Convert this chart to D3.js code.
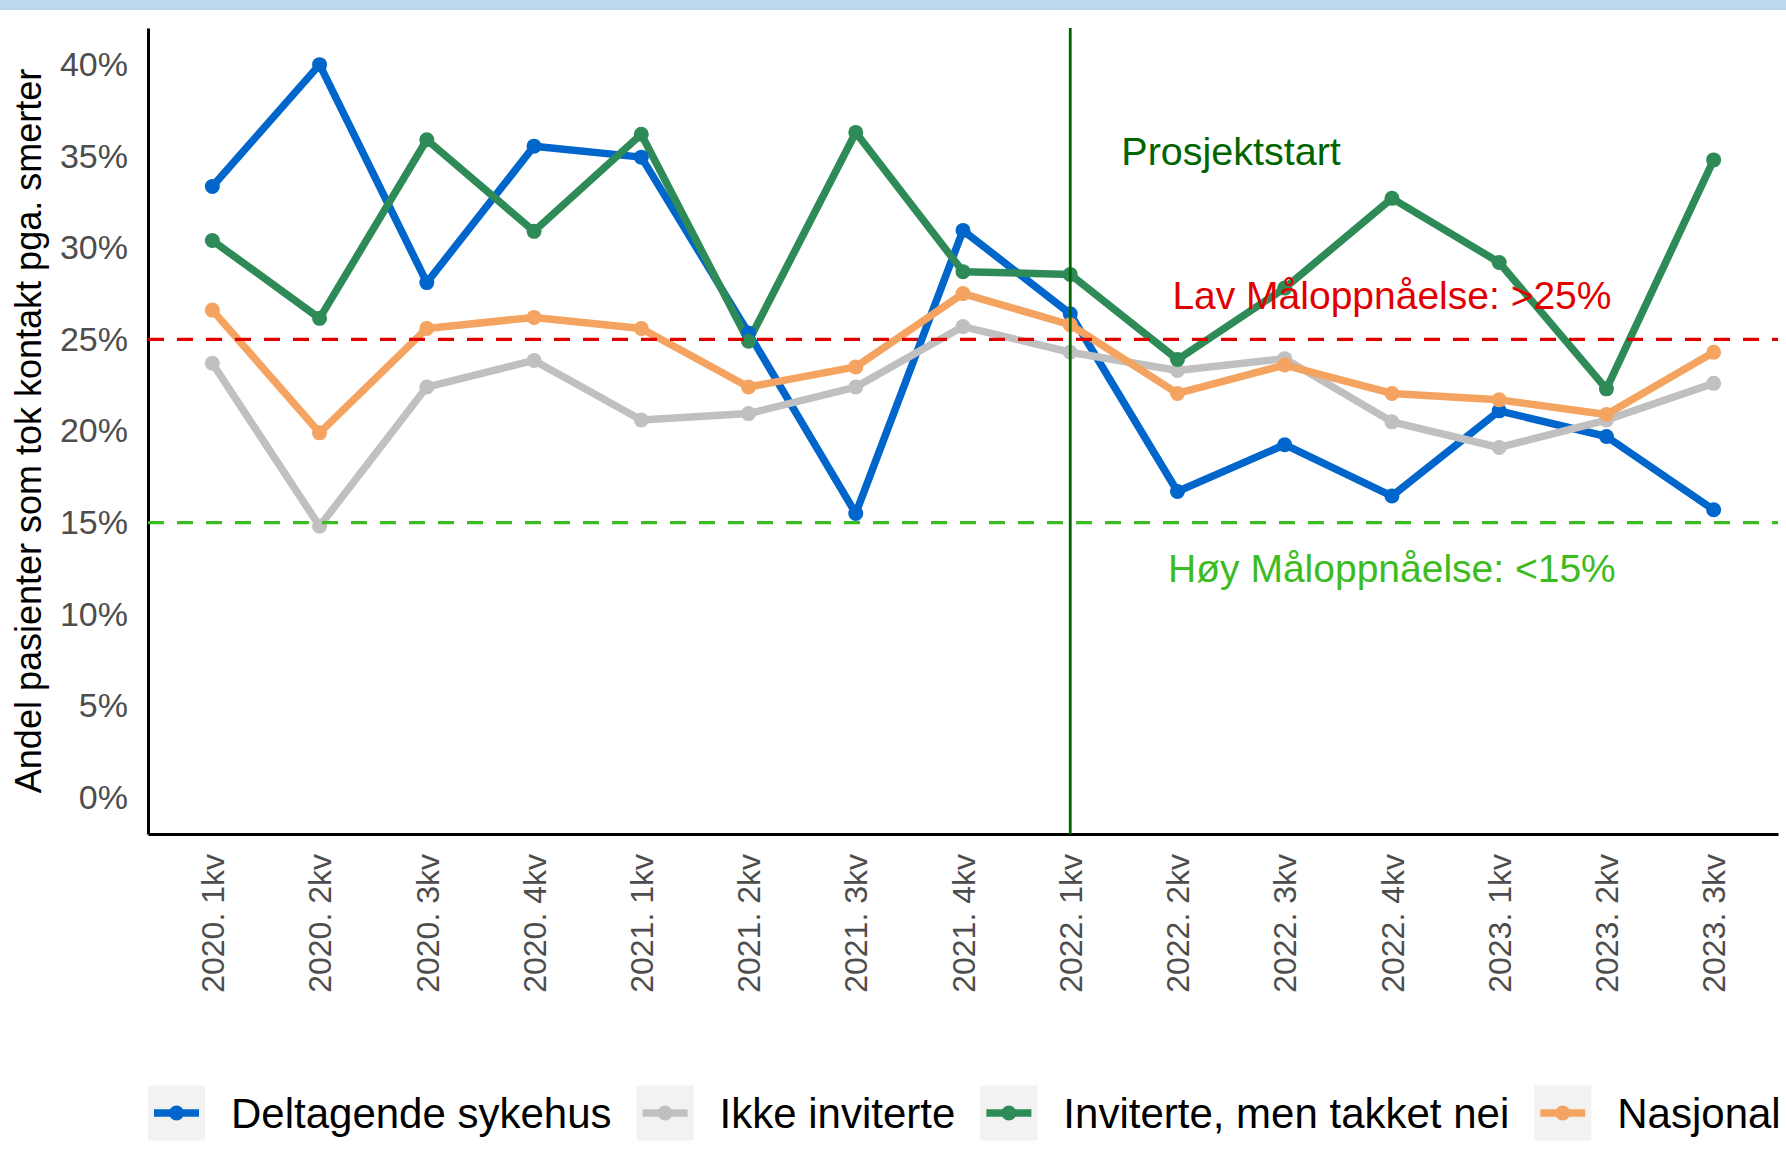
<!DOCTYPE html>
<html>
<head>
<meta charset="utf-8">
<script src="https://cdn.jsdelivr.net/npm/d3@7"></script>
<style>
  body { margin: 0; background: #fff; }
  svg { display: block; font-family: "Liberation Sans", Arial, Helvetica, sans-serif; }
</style>
</head>
<body>
<div id="chart"></div>
<script>
// Quarters on the x axis
var quarters = ['2020. 1kv', '2020. 2kv', '2020. 3kv', '2020. 4kv',
  '2021. 1kv', '2021. 2kv', '2021. 3kv', '2021. 4kv',
  '2022. 1kv', '2022. 2kv', '2022. 3kv', '2022. 4kv',
  '2023. 1kv', '2023. 2kv', '2023. 3kv'];

// Percent of patients, one array per group
var deltagende = [33.35, 40.0, 28.1, 35.55, 34.95, 25.35, 15.5, 30.95, 26.4, 16.7, 19.25, 16.45, 21.1, 19.7, 15.7];
var ikkeInviterte = [23.7, 14.8, 22.4, 23.85, 20.6, 20.95, 22.4, 25.7, 24.3, 23.3, 23.95, 20.5, 19.1, 20.6, 22.6];
var invitertNei = [30.4, 26.15, 35.9, 30.9, 36.2, 24.9, 36.3, 28.7, 28.55, 23.9, 27.8, 32.7, 29.2, 22.3, 34.8];
var nasjonal = [26.6, 19.9, 25.6, 26.2, 25.6, 22.4, 23.5, 27.5, 25.8, 22.05, 23.6, 22.05, 21.7, 20.9, 24.3];

var seriesNames = ['Deltagende sykehus', 'Ikke inviterte', 'Inviterte, men takket nei', 'Nasjonal'];
var seriesValues = [deltagende, ikkeInviterte, invitertNei, nasjonal];
var seriesColors = ['#0066cc', '#c0c0c0', '#2e8b57', '#f4a460'];

var yTicks = [0, 5, 10, 15, 20, 25, 30, 35, 40];

// Goal thresholds and project start
var lowGoal = 25;
var highGoal = 15;
var projectStart = '2022. 1kv';

var width = 1786;
var height = 1151;
var margin = {top: 28, right: 8, bottom: 317, left: 148};
var plotW = width - margin.left - margin.right;
var plotH = height - margin.top - margin.bottom;

var svg = d3.select('#chart').append('svg')
  .attr('width', width)
  .attr('height', height);

// light blue strip at the very top
svg.append('rect')
  .attr('x', 0).attr('y', 0)
  .attr('width', width).attr('height', 10)
  .attr('fill', '#bdd7ee');

var g = svg.append('g')
  .attr('transform', 'translate(' + margin.left + ',' + margin.top + ')');

var x = d3.scalePoint()
  .domain(quarters)
  .range([0, plotW])
  .padding(0.6);

// fractional positions between quarters (for the text labels)
function xAt(i) {
  return x(quarters[0]) + i * x.step();
}

var y = d3.scaleLinear()
  .domain([-2, 42])
  .range([plotH, 0]);

// axes
var yAxis = g.append('g')
  .call(d3.axisLeft(y).tickValues(yTicks).tickSize(0).tickPadding(20)
    .tickFormat(function(d) { return d + '%'; }));
yAxis.select('.domain').attr('stroke', '#000').attr('stroke-width', 3);
yAxis.selectAll('text')
  .attr('fill', '#4d4d4d')
  .style('font-size', '34px')
  .style('font-family', 'inherit');

var xAxis = g.append('g')
  .attr('transform', 'translate(0,' + plotH + ')')
  .call(d3.axisBottom(x).tickSize(0));
xAxis.select('.domain').attr('stroke', '#000').attr('stroke-width', 3);
xAxis.selectAll('text')
  .attr('fill', '#4d4d4d')
  .attr('transform', 'rotate(-90)')
  .attr('x', -20)
  .attr('y', 0)
  .attr('dy', '0.35em')
  .attr('text-anchor', 'end')
  .style('font-size', '32px')
  .style('font-family', 'inherit');

svg.append('text')
  .attr('transform', 'translate(28,' + (margin.top + plotH / 2) + ') rotate(-90)')
  .attr('text-anchor', 'middle')
  .attr('dy', '0.35em')
  .style('font-size', '36px')
  .attr('fill', '#000')
  .text('Andel pasienter som tok kontakt pga. smerter');

// series lines and points
var line = d3.line()
  .x(function(d, i) { return x(quarters[i]); })
  .y(function(d) { return y(d); });

seriesValues.forEach(function(values, s) {
  g.append('path')
    .datum(values)
    .attr('d', line)
    .attr('fill', 'none')
    .attr('stroke', seriesColors[s])
    .attr('stroke-width', 7.5)
    .attr('stroke-linejoin', 'round');
});

seriesValues.forEach(function(values, s) {
  g.selectAll(null)
    .data(values)
    .enter()
    .append('circle')
    .attr('cx', function(d, i) { return x(quarters[i]); })
    .attr('cy', function(d) { return y(d); })
    .attr('r', 7.5)
    .attr('fill', seriesColors[s]);
});

// reference lines
g.append('line')
  .attr('x1', 0).attr('x2', plotW)
  .attr('y1', y(lowGoal)).attr('y2', y(lowGoal))
  .attr('stroke', '#e00000')
  .attr('stroke-width', 3.2)
  .attr('stroke-dasharray', '16,13');

g.append('line')
  .attr('x1', 0).attr('x2', plotW)
  .attr('y1', y(highGoal)).attr('y2', y(highGoal))
  .attr('stroke', '#3cbc22')
  .attr('stroke-width', 3.2)
  .attr('stroke-dasharray', '16,13');

g.append('line')
  .attr('x1', x(projectStart)).attr('x2', x(projectStart))
  .attr('y1', 0).attr('y2', plotH)
  .attr('stroke', '#006400')
  .attr('stroke-width', 2.8);

// annotations
var notes = [
  {text: 'Prosjektstart', i: 9.5, v: 35.3, color: '#006400', size: 39.5},
  {text: 'Lav Måloppnåelse: >25%', i: 11, v: 27.4, color: '#e00000', size: 39},
  {text: 'Høy Måloppnåelse: <15%', i: 11, v: 12.5, color: '#3cbc22', size: 39}
];

g.selectAll('.note')
  .data(notes)
  .enter()
  .append('text')
  .attr('class', 'note')
  .attr('x', function(d) { return xAt(d.i); })
  .attr('y', function(d) { return y(d.v); })
  .attr('dy', '0.35em')
  .attr('text-anchor', 'middle')
  .attr('fill', function(d) { return d.color; })
  .style('font-size', function(d) { return d.size + 'px'; })
  .text(function(d) { return d.text; });

// legend along the bottom, last label ends right at the edge like the original
var legendY = 1113;
var keyW = 57, keyH = 55;
var lx = margin.left;

seriesNames.forEach(function(name, s) {
  var item = svg.append('g').attr('transform', 'translate(' + lx + ',' + legendY + ')');
  item.append('rect')
    .attr('x', 0).attr('y', -keyH / 2)
    .attr('width', keyW).attr('height', keyH)
    .attr('fill', '#f2f2f2');
  item.append('line')
    .attr('x1', 6).attr('x2', keyW - 6)
    .attr('y1', 0).attr('y2', 0)
    .attr('stroke', seriesColors[s])
    .attr('stroke-width', 7.5);
  item.append('circle')
    .attr('cx', keyW / 2).attr('cy', 0)
    .attr('r', 7.5)
    .attr('fill', seriesColors[s]);
  var label = item.append('text')
    .attr('x', keyW + 26)
    .attr('dy', '0.35em')
    .style('font-size', '42px')
    .attr('fill', '#000')
    .text(name);
  lx += keyW + 26 + label.node().getComputedTextLength() + 25;
});
</script>
</body>
</html>
